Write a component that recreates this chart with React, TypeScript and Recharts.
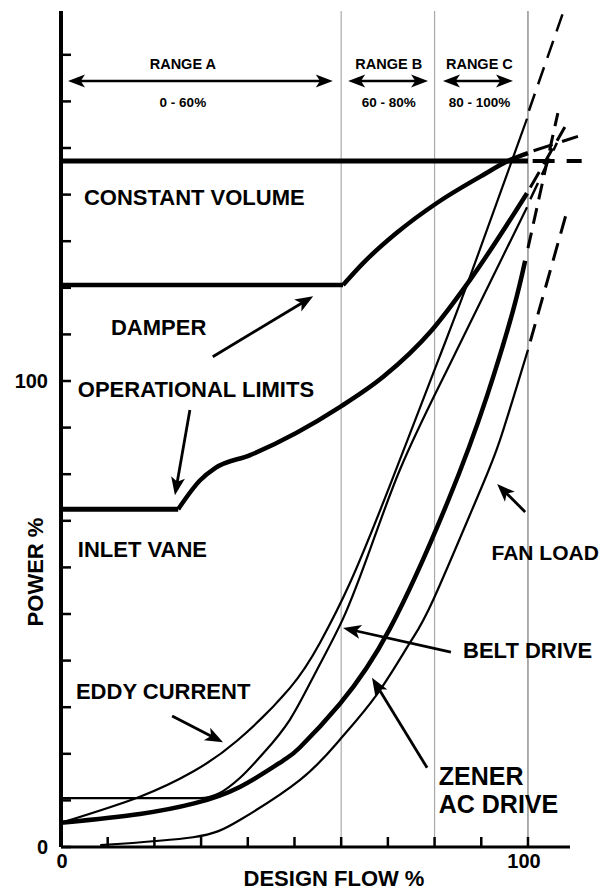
import React from 'react';
import { LineChart, Line, XAxis, YAxis, ReferenceLine, ReferenceDot } from 'recharts';

type Pt = { x: number; y: number };

// axis ticks (percent)
const yTicks = [0, 10, 20, 30, 40, 50, 60, 70, 80, 90, 100, 110, 120, 130, 140, 150, 160, 170];
const xTicks = [0, 10, 20, 30, 40, 50, 60, 70, 80, 90, 100];
const topTicks = [10, 20, 30, 40, 50, 60, 70, 80, 90];
const labelledTicks = [0, 100];
const rangeLines = [60, 80, 100];

// power curves (design flow %, power %)
const constantVolume: Pt[] = [{ x: 0, y: 147.2 }, { x: 100, y: 147.2 }];
const constantVolumeExt: Pt[] = [{ x: 101, y: 147.2 }, { x: 111.5, y: 147.2 }];

const damperFlat: Pt[] = [{ x: 0, y: 120.6 }, { x: 60.4, y: 120.6 }];
const damperRise: Pt[] = [
  { x: 60.4, y: 120.6 }, { x: 64.7, y: 125.3 }, { x: 71.9, y: 131.8 }, { x: 80.5, y: 138.2 },
  { x: 89.7, y: 143.8 }, { x: 96.1, y: 147.4 }, { x: 100, y: 148.9 },
];
const damperExt: Pt[] = [{ x: 101.2, y: 149.4 }, { x: 110.7, y: 152.5 }];

const inletFlat: Pt[] = [{ x: 0, y: 72.5 }, { x: 25.1, y: 72.5 }];
const inletRise: Pt[] = [
  { x: 25.1, y: 72.5 }, { x: 29.8, y: 78.7 }, { x: 33, y: 81.3 }, { x: 40.5, y: 84.1 },
  { x: 59.7, y: 94.4 }, { x: 69, y: 100.9 }, { x: 79.4, y: 110.9 }, { x: 87.6, y: 121.7 },
  { x: 99.8, y: 140.3 },
];
const inletExt: Pt[] = [{ x: 100.5, y: 141.5 }, { x: 107.9, y: 154.5 }];

const eddyCurrent: Pt[] = [
  { x: 0, y: 5.2 }, { x: 16.9, y: 10.8 }, { x: 28.3, y: 16.2 }, { x: 37.7, y: 22.8 },
  { x: 49, y: 34.1 }, { x: 55.5, y: 43.9 }, { x: 61.9, y: 56.7 }, { x: 70.4, y: 77.5 },
  { x: 81, y: 105 }, { x: 88, y: 123.5 }, { x: 99.8, y: 156.3 },
];
const eddyExt: Pt[] = [{ x: 100.2, y: 158 }, { x: 107.5, y: 179 }];

const beltDrive: Pt[] = [
  { x: 0, y: 10.5 }, { x: 29.8, y: 10.5 }, { x: 34, y: 11.6 }, { x: 38.3, y: 14.8 },
  { x: 42.6, y: 19.3 }, { x: 49, y: 27.3 }, { x: 54.8, y: 38 }, { x: 60.4, y: 49 },
  { x: 72.6, y: 81 }, { x: 84.8, y: 106.7 }, { x: 99.8, y: 137.3 },
];
const beltExt: Pt[] = [{ x: 100.5, y: 139 }, { x: 106.2, y: 151.1 }];

const zenerDrive: Pt[] = [
  { x: 0, y: 5.2 }, { x: 16.9, y: 7.1 }, { x: 28.3, y: 9.3 }, { x: 38.3, y: 12.9 },
  { x: 47.5, y: 18.5 }, { x: 51.2, y: 21.4 }, { x: 59.7, y: 30.7 }, { x: 70.4, y: 46.8 },
  { x: 82.9, y: 74.3 }, { x: 91.2, y: 96.7 }, { x: 96.8, y: 115.1 }, { x: 99.4, y: 125.8 },
];
const zenerExt: Pt[] = [{ x: 100, y: 128.5 }, { x: 106.4, y: 157.5 }];

const fanLoad: Pt[] = [
  { x: 8.4, y: 0.4 }, { x: 28.3, y: 2.1 }, { x: 38.3, y: 5.8 }, { x: 51.2, y: 14.4 },
  { x: 59.7, y: 23 }, { x: 67.7, y: 32.8 }, { x: 74.7, y: 43.8 }, { x: 79.7, y: 53 },
  { x: 89.1, y: 74.9 }, { x: 94, y: 87.3 }, { x: 100, y: 106.7 },
];
const fanExt: Pt[] = [{ x: 100.5, y: 108.5 }, { x: 108.6, y: 137.3 }];

// range bands across the top
const ranges = [
  { name: 'RANGE A', span: '0 - 60%', from: 1.5, to: 58.2, mid: 26.1 },
  { name: 'RANGE B', span: '60 - 80%', from: 61.5, to: 78.6, mid: 70.2 },
  { name: 'RANGE C', span: '80 - 100%', from: 81.8, to: 96.8, mid: 89.6 },
];
const rangeArrowY = 164.4;
const rangeNameY = 167;
const rangeSpanY = 158.8;

// curve labels (left edge, baseline)
const notes = [
  { text: 'CONSTANT VOLUME', x: 4.9, y: 137.8, size: 22 },
  { text: 'DAMPER', x: 10.7, y: 109.9, size: 22 },
  { text: 'OPERATIONAL LIMITS', x: 3.6, y: 96.6, size: 22 },
  { text: 'INLET VANE', x: 3.6, y: 62.2, size: 22 },
  { text: 'EDDY CURRENT', x: 3.2, y: 31.8, size: 22 },
  { text: 'BELT DRIVE', x: 86.1, y: 40.6, size: 22 },
  { text: 'FAN LOAD', x: 92.2, y: 61.6, size: 21 },
  { text: 'ZENER', x: 80.9, y: 13.3, size: 25 },
  { text: 'AC DRIVE', x: 80.9, y: 7.3, size: 25 },
];

// pointer arrows: tail -> tip
const pointers = [
  { from: { x: 32.5, y: 105.2 }, to: { x: 54, y: 118.2 } },
  { from: { x: 27.6, y: 93.8 }, to: { x: 24.4, y: 75.5 } },
  { from: { x: 23.8, y: 28.1 }, to: { x: 34.7, y: 22.5 } },
  { from: { x: 83.5, y: 41.8 }, to: { x: 60.4, y: 47 } },
  { from: { x: 78.4, y: 17 }, to: { x: 66.6, y: 36.3 } },
  { from: { x: 99.4, y: 71.9 }, to: { x: 93.4, y: 77.9 } },
];

const FONT = '"Liberation Sans", Arial, Helvetica, sans-serif';

const arrowShape = (double: boolean, head = 17, half = 6.5, width = 2.5) => (p: any) => {
  const { x1, y1, x2, y2 } = p;
  const dx = x2 - x1;
  const dy = y2 - y1;
  const len = Math.hypot(dx, dy) || 1;
  const ux = dx / len;
  const uy = dy / len;
  const headAt = (tx: number, ty: number, vx: number, vy: number) => {
    const bx = tx - vx * head;
    const by = ty - vy * head;
    const nx = tx - vx * head * 0.75;
    const ny = ty - vy * head * 0.75;
    return `${tx},${ty} ${bx - vy * half},${by + vx * half} ${nx},${ny} ${bx + vy * half},${by - vx * half}`;
  };
  return (
    <g>
      <line
        x1={double ? x1 + ux * head * 0.7 : x1}
        y1={double ? y1 + uy * head * 0.7 : y1}
        x2={x2 - ux * head * 0.7}
        y2={y2 - uy * head * 0.7}
        stroke="#000"
        strokeWidth={width}
      />
      <polygon points={headAt(x2, y2, ux, uy)} fill="#000" />
      {double && <polygon points={headAt(x1, y1, -ux, -uy)} fill="#000" />}
    </g>
  );
};

const LeftTick = (props: any) => {
  const { x, y, payload } = props;
  return (
    <g>
      <line x1={x} y1={y} x2={x + 10} y2={y} stroke="#000" strokeWidth={2.5} />
      {labelledTicks.includes(payload.value) && (
        <text x={x - 13} y={y + 7} textAnchor="end" fontFamily={FONT} fontWeight="bold" fontSize={20} fill="#000">
          {payload.value}
        </text>
      )}
    </g>
  );
};

const BottomTick = (props: any) => {
  const { x, y, payload } = props;
  return (
    <g>
      <line x1={x} y1={y} x2={x} y2={y - 10} stroke="#000" strokeWidth={2.5} />
      {labelledTicks.includes(payload.value) && (
        <text x={payload.value === 100 ? x - 4 : x + 1} y={y + 21} textAnchor="middle" fontFamily={FONT} fontWeight="bold" fontSize={20} fill="#000">
          {payload.value}
        </text>
      )}
    </g>
  );
};

const TopTick = (props: any) => {
  const { x, y } = props;
  return <line x1={x} y1={y} x2={x} y2={y + 9} stroke="#000" strokeWidth={2.5} />;
};

const noteLabel = (text: string, size: number, anchor: 'start' | 'middle' = 'start') =>
  (p: any) => (
    <text x={p.viewBox.x} y={p.viewBox.y} textAnchor={anchor} fontFamily={FONT} fontWeight="bold" fontSize={size} fill="#000">
      {text}
    </text>
  );

const curve = (key: string, data: Pt[], width: number, type: 'monotone' | 'linear' | 'natural' = 'monotone', dash?: string) => (
  <Line
    key={key}
    data={data}
    dataKey="y"
    type={type}
    stroke="#000"
    strokeWidth={width}
    strokeDasharray={dash}
    dot={false}
    activeDot={false}
    legendType="none"
    isAnimationActive={false}
  />
);

export default function App() {
  return (
    <div style={{ width: 602, height: 882, fontFamily: FONT }}>
      <LineChart width={602} height={882} margin={{ top: 3, right: 26, bottom: 0, left: 0 }}>
        <XAxis
          dataKey="x"
          type="number"
          domain={[0, 112]}
          allowDataOverflow
          ticks={xTicks}
          interval={0}
          tickSize={0}
          tickMargin={0}
          tick={<BottomTick />}
          axisLine={false}
          height={43}
          label={{
            content: (p: any) => (
              <text x={p.viewBox.x + 273} y={p.viewBox.y + 39} textAnchor="middle" fontFamily={FONT} fontWeight="bold" fontSize={22} fill="#000">
                DESIGN FLOW %
              </text>
            ),
          }}
        />
        <XAxis
          xAxisId="top"
          orientation="top"
          type="number"
          domain={[0, 112]}
          allowDataOverflow
          ticks={topTicks}
          interval={0}
          tickSize={0}
          tickMargin={0}
          tick={<TopTick />}
          axisLine={{ stroke: '#000', strokeWidth: 3 }}
          height={0}
        />
        <YAxis
          type="number"
          domain={[0, 179.4]}
          allowDataOverflow
          ticks={yTicks}
          interval={0}
          tickSize={0}
          tickMargin={0}
          tick={<LeftTick />}
          axisLine={{ stroke: '#000', strokeWidth: 4 }}
          width={53}
          label={{
            content: (p: any) => (
              <text
                x={p.viewBox.x + 27}
                y={p.viewBox.y + 561}
                transform={`rotate(-90 ${p.viewBox.x + 27} ${p.viewBox.y + 561})`}
                textAnchor="middle"
                dominantBaseline="central"
                fontFamily={FONT}
                fontWeight="bold"
                fontSize={22}
                fill="#000"
              >
                POWER %
              </text>
            ),
          }}
        />

        {rangeLines.map((v) => (
          <ReferenceLine key={`v${v}`} x={v} stroke={v === 100 ? '#777' : '#aaa'} strokeWidth={1.2} />
        ))}
        <ReferenceLine segment={[{ x: 0, y: 0 }, { x: 109, y: 0 }]} stroke="#000" strokeWidth={3} />

        {curve('cv', constantVolume, 5, 'linear')}
        {curve('cvx', constantVolumeExt, 4, 'linear', '22 12')}
        {curve('df', damperFlat, 4.5, 'linear')}
        {curve('dr', damperRise, 4.5)}
        {curve('dx', damperExt, 3, 'linear', '20 10')}
        {curve('if', inletFlat, 5, 'linear')}
        {curve('ir', inletRise, 4.5)}
        {curve('ix', inletExt, 3, 'linear', '18 9')}
        {curve('ec', eddyCurrent, 2.2, 'natural')}
        {curve('ecx', eddyExt, 2.5, 'linear', '18 10')}
        {curve('bd', beltDrive, 2.2)}
        {curve('bdx', beltExt, 2.5, 'linear', '18 9')}
        {curve('zd', zenerDrive, 4.5, 'natural')}
        {curve('zdx', zenerExt, 3, 'linear', '16 9')}
        {curve('fl', fanLoad, 2.2, 'natural')}
        {curve('flx', fanExt, 3, 'linear', '18 10')}

        {ranges.map((r) => (
          <ReferenceLine
            key={`ra${r.name}`}
            segment={[{ x: r.from, y: rangeArrowY }, { x: r.to, y: rangeArrowY }]}
            shape={arrowShape(true, 17, 6.5, 2.5)}
          />
        ))}
        {ranges.map((r) => (
          <ReferenceDot
            key={`rn${r.name}`}
            x={r.mid}
            y={rangeNameY}
            r={0}
            fill="none"
            stroke="none"
            label={noteLabel(r.name, 14.5, 'middle')}
          />
        ))}
        {ranges.map((r) => (
          <ReferenceDot
            key={`rs${r.name}`}
            x={r.mid}
            y={rangeSpanY}
            r={0}
            fill="none"
            stroke="none"
            label={noteLabel(r.span, 13.5, 'middle')}
          />
        ))}

        {pointers.map((a, i) => (
          <ReferenceLine key={`p${i}`} segment={[a.from, a.to]} shape={arrowShape(false, 18, 7, 2.8)} />
        ))}
        {notes.map((n) => (
          <ReferenceDot
            key={n.text}
            x={n.x}
            y={n.y}
            r={0}
            fill="none"
            stroke="none"
            label={noteLabel(n.text, n.size)}
          />
        ))}
      </LineChart>
    </div>
  );
}
